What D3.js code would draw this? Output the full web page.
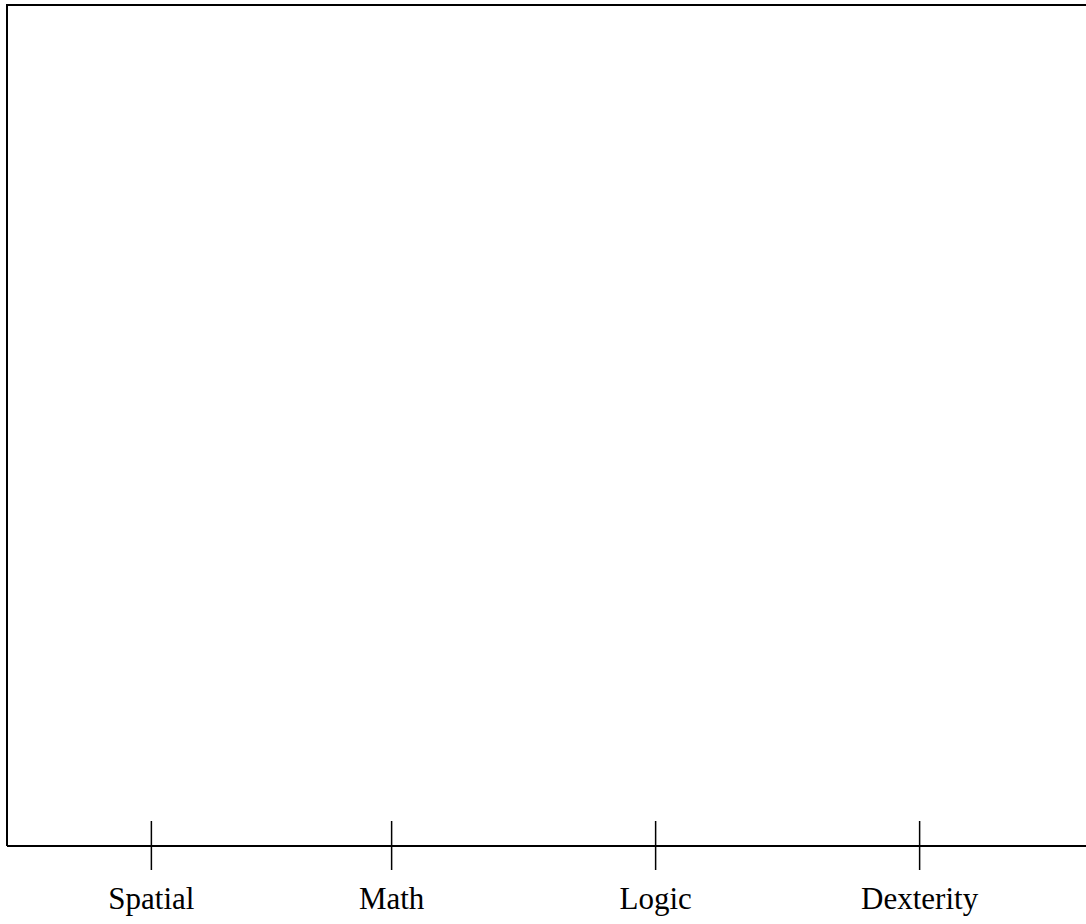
<!DOCTYPE html>
<html>
<head>
<meta charset="utf-8">
<script src="https://cdn.jsdelivr.net/npm/d3@7"></script>
<style>
  html, body { margin: 0; padding: 0; background: #fff; }
  svg { display: block; }
</style>
</head>
<body>
<script>
const categories = ["Spatial", "Math", "Logic", "Dexterity"];
const categoryPositions = [0.545, 1.455, 2.455, 3.455];

(function () {
const W = 1086, H = 924;
const padLeft = 7, padTop = 5, axisY = 846;

const svg = d3.select("body").append("svg").attr("width", W).attr("height", H);

const x = d3.scaleLinear().domain([0, 4]).range([padLeft, padLeft + 4 * 264]);

// frame: left and top lines
svg.append("path")
  .attr("d", `M${padLeft},${axisY}V${padTop}H${W}`)
  .attr("fill", "none").attr("stroke", "#000").attr("stroke-width", 2);

// bottom axis line
svg.append("line")
  .attr("x1", padLeft).attr("x2", W).attr("y1", axisY).attr("y2", axisY)
  .attr("stroke", "#000").attr("stroke-width", 2);

const axis = d3.axisBottom(x)
  .tickValues(categoryPositions)
  .tickFormat((d, i) => categories[i])
  .tickSize(24).tickSizeOuter(0).tickPadding(20);

const g = svg.append("g").attr("transform", `translate(0,${axisY})`).call(axis);
g.select(".domain").remove();
g.selectAll(".tick line").attr("y1", -25).attr("y2", 24).attr("stroke", "#000").attr("stroke-width", 1.5);
g.selectAll(".tick text")
  .attr("font-family", "'Liberation Serif', 'Times New Roman', serif")
  .attr("font-size", 31).attr("fill", "#000")
  .attr("dy", null).attr("y", 63);
})();
</script>
</body>
</html>
